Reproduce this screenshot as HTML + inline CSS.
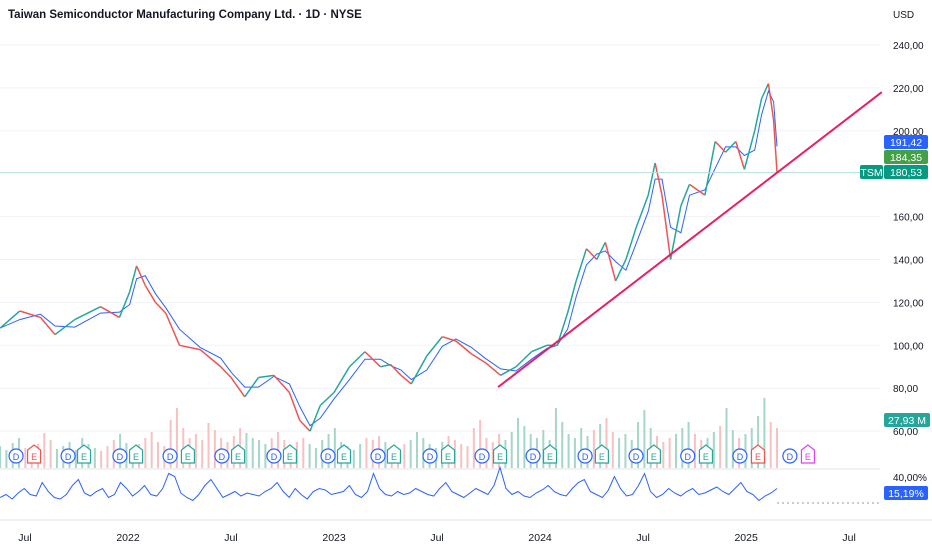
<!DOCTYPE html>
<html><head><meta charset="utf-8">
<style>
body{margin:0;background:#fff;font-family:"Liberation Sans",sans-serif;}
#wrap{position:relative;width:932px;height:550px;overflow:hidden;}
svg{position:absolute;left:0;top:0;}
.t{font-family:"Liberation Sans",sans-serif;}
</style></head>
<body>
<div id="wrap">
<svg id="c" width="932" height="550">
  <text x="8" y="18" class="t" font-size="11.5" font-weight="bold" fill="#131722">Taiwan Semiconductor Manufacturing Company Ltd. · 1D · NYSE</text>
  <text x="893" y="18" class="t" font-size="10" fill="#131722">USD</text>
  <line x1="0" y1="469" x2="880" y2="469" stroke="#e0e3eb"/>
  <line x1="0" y1="520" x2="932" y2="520" stroke="#e0e3eb"/>
  <g id="grid"></g>
  <g id="vol"></g>
  <g id="price"></g>
  <g id="osc"></g>
  <g id="marks"></g>
  <g id="axes"></g>
</svg>
</div>
<script>
// price data: t = months since Jan 2022, close price
const dates=[-7.45,-6.3,-5.1,-4.25,-3.1,-1.6,-0.5,0.1,0.5,1.0,1.6,2.2,3.0,4.2,5.4,6.0,6.8,7.6,8.5,9.4,10.0,10.6,11.2,12.0,12.9,13.8,14.7,15.3,15.9,16.5,17.4,18.3,19.1,20.0,20.8,21.7,22.6,23.5,24.4,25.0,25.6,26.1,26.7,27.3,27.8,28.4,29.0,29.6,30.3,30.7,31.1,31.6,32.2,32.7,33.6,34.2,34.8,35.4,35.9,36.5,36.9,37.3,37.6,37.8];
const closes=[108,116,113,105,112,118,113,125,137,128,120,115,100,98,90,85,76,85,86,78,65,60,72,78,90,97,90,91,86,82,95,104,102,96,92,86,90,97,100,100,115,130,145,140,148,130,140,155,170,185,170,140,165,175,170,195,190,195,182,200,215,222,205,180.5];
// volume & oscillator: evenly spaced samples from seriesStart to seriesEnd (months)
const seriesStart=-7.45, seriesEnd=37.8;
const vols=[22,18,25,30,20,16,24,35,28,19,22,26,18,30,24,20,17,22,28,34,25,20,24,30,36,26,22,48,60,40,30,34,28,45,38,30,26,32,40,35,30,28,24,30,36,28,22,26,30,24,20,28,34,40,26,22,18,24,30,28,32,26,22,20,24,28,36,30,24,20,26,32,28,24,22,40,48,30,26,34,28,36,50,42,34,30,38,28,60,46,34,30,40,32,38,44,50,36,30,34,28,46,58,40,32,26,30,34,40,46,34,28,30,36,42,60,38,30,34,40,52,70,46,40];
const oscVals=[14,16,13,17,20,16,15,24,18,14,13,16,22,26,17,15,18,20,14,16,24,20,15,18,22,16,15,20,30,28,17,14,12,16,22,26,20,14,16,18,15,17,16,15,18,20,24,18,14,20,16,13,18,20,19,16,17,18,22,16,14,18,30,20,16,15,18,16,17,20,18,16,15,20,24,18,16,14,17,20,18,16,22,34,20,16,18,15,14,17,19,22,18,16,15,20,24,26,18,16,14,19,28,20,15,16,22,30,18,14,16,20,17,15,18,20,16,17,19,21,18,16,20,24,18,16,12,15,17,20];
const priceTicks=[240,220,200,160,140,120,100,80,60];
const timeLabels=["Jul","2022","Jul","2023","Jul","2024","Jul","2025","Jul"];
const timeTicks=[-6,0,6,12,18,24,30,36,42];
const events=[[-6.52,"D"],[-5.47,"E"],[-3.49,"D"],[-2.56,"E"],[-0.47,"D"],[0.47,"E"],[2.45,"D"],[3.49,"E"],[5.47,"D"],[6.41,"E"],[8.5,"D"],[9.43,"E"],[11.65,"D"],[12.58,"E"],[14.56,"D"],[15.49,"E"],[17.59,"D"],[18.64,"E"],[20.62,"D"],[21.67,"E"],[23.59,"D"],[24.58,"E"],[26.62,"D"],[27.6,"E"],[29.59,"D"],[30.63,"E"],[32.6,"D"],[33.66,"E"],[35.64,"D"],[36.69,"E"],[38.55,"D"],[39.6,"E"]];
const trendStart=[21.55,80.5], trendEnd=[43.9,218];

const X=t=>128+t*17.17;
const Y=p=>45+(240-p)*2.145;
const VY=v=>468-v*1.0;
const OY=v=>496-(v-15)*1.5;
const NS="http://www.w3.org/2000/svg";
function el(tag,attrs,parent,txt){const e=document.createElementNS(NS,tag);for(const k in attrs)e.setAttribute(k,attrs[k]);if(txt!==undefined)e.textContent=txt;parent.appendChild(e);return e;}
const g=id=>document.getElementById(id);
function priceAt(t){for(let i=1;i<dates.length;i++){if(t<=dates[i]){const f=(t-dates[i-1])/(dates[i]-dates[i-1]);return closes[i-1]+f*(closes[i]-closes[i-1]);}}return closes[closes.length-1];}

priceTicks.forEach(p=>{
  const l=el('line',{x1:0,x2:880,y1:Y(p),y2:Y(p),stroke:'#f0f3fa'},g('grid'));
  
  
  const t=el('text',{x:893,y:Y(p)+4,'font-size':10,fill:'#131722',class:'t'},g('axes'),p.toFixed(2).replace('.',','));
  
  
});
timeTicks.forEach((m,i)=>{
  const t=el('text',{x:X(m),y:541,'font-size':10.5,fill:'#131722','text-anchor':'middle',class:'t'},g('axes'),timeLabels[i]);
  
  
});
// volume
const vstep=(seriesEnd-seriesStart)/(vols.length-1);
vols.forEach((v,i)=>{
  const t=seriesStart+i*vstep;
  const up=priceAt(t+vstep/2)>=priceAt(t-vstep/2);
  const r=el('rect',{x:X(t)-1,y:VY(v),width:2,height:468-VY(v),fill:up?'#a5d6c8':'#f7c1c1'},g('vol'));
  
  
});
// MA line (blue) + price
let ma=closes.map((c,i)=>{const s=closes.slice(Math.max(0,i-1),i+1);return s.reduce((a,b)=>a+b)/s.length;});
const pMA=el('path',{d:dates.map((d,i)=>(i?'L':'M')+X(d).toFixed(1)+','+Y(ma[i]).toFixed(1)).join(''),fill:'none',stroke:'#2962ff','stroke-width':1},g('price'));


for(let i=1;i<dates.length;i++){
  const up=closes[i]>=closes[i-1];
  const s=el('line',{x1:X(dates[i-1]),y1:Y(closes[i-1]),x2:X(dates[i]),y2:Y(closes[i]),stroke:up?'#26a69a':'#ef5350','stroke-width':1.5},g('price'));
  
  
}
const lastY=Y(closes[closes.length-1]);
const hl=el('line',{x1:0,x2:880,y1:lastY,y2:lastY,stroke:'#b2dfdb','stroke-width':1},g('price'));


const tl=el('line',{x1:X(trendStart[0]),y1:Y(trendStart[1]),x2:X(trendEnd[0]),y2:Y(trendEnd[1]),stroke:'#e91e63','stroke-width':2},g('price'));


// oscillator
const ostep=(seriesEnd-seriesStart)/(oscVals.length-1);
const op=el('path',{d:oscVals.map((v,i)=>(i?'L':'M')+X(seriesStart+i*ostep).toFixed(1)+','+OY(v).toFixed(1)).join(''),fill:'none',stroke:'#2962ff','stroke-width':1},g('osc'));


const od=el('line',{x1:X(seriesEnd),x2:880,y1:503,y2:503,stroke:'#9598a1','stroke-dasharray':'2,3'},g('osc'));


const ot=el('text',{x:893,y:481,'font-size':10,fill:'#131722',class:'t'},g('axes'),'40,00%');


// events
events.forEach((e,i)=>{
  const x=X(e[0]);
  const last=i===events.length-1;
  const red=(i===1||i===29);
  const col=e[1]==='D'?'#2962ff':(last?'#e040fb':(red?'#ef5350':'#26a69a'));
  let s;
  if(e[1]==='D') s=el('circle',{cx:x,cy:456,r:7,fill:'#fff',stroke:col,'stroke-width':1.2},g('marks'));
  else s=el('path',{d:`M${x-6.5},450 L${x},445 L${x+6.5},450 L${x+6.5},463 L${x-6.5},463Z`,fill:'#fff',stroke:col,'stroke-width':1.2},g('marks'));
  
  
  const t=el('text',{x:x,y:460,'font-size':9,fill:col,'text-anchor':'middle',class:'t'},g('marks'),e[1]);
  
  
});
// badges
function badge(x,y,w,col,txt,name){
  const r=el('rect',{x:x,y:y,width:w,height:14,rx:2,fill:col},g('axes'));
  
  
  const t=el('text',{x:x+w/2,y:y+11,'font-size':10.5,fill:'#fff','text-anchor':'middle',class:'t'},g('axes'),txt);
  
  
}
badge(884,135,44,'#2962ff','191,42','high-price-badge');
badge(884,150,44,'#43a047','184,35','ma-price-badge');
badge(884,165,44,'#089981','180,53','last-price-badge');
badge(860,165,23,'#089981','TSM','symbol-badge');
badge(884,413,46,'#26a69a','27,93 M','volume-badge');
badge(884,486,44,'#2962ff','15,19%','oscillator-value-badge');
</script>
</body></html>
